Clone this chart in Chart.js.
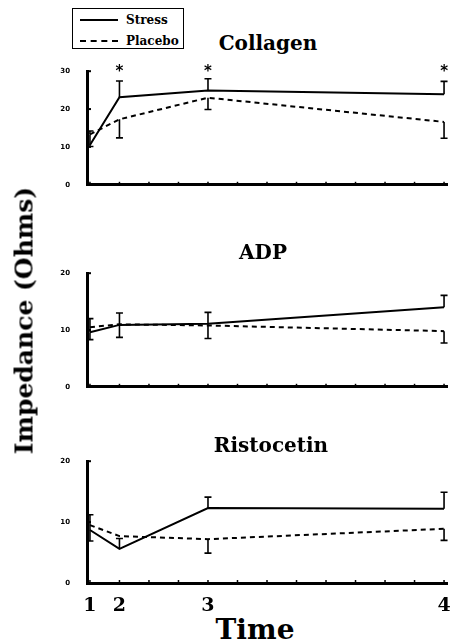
<!DOCTYPE html>
<html>
<head>
<meta charset="utf-8">
<script src="https://cdn.jsdelivr.net/npm/chart.js@4.4.1/dist/chart.umd.min.js"></script>
<style>
  html,body{margin:0;padding:0;background:#fff;}
  #wrap{position:relative;width:455px;height:643px;overflow:hidden;background:#fff;}
  canvas{position:absolute;left:0;}
  .t{position:absolute;font-family:"DejaVu Serif",serif;font-weight:bold;color:#000;white-space:nowrap;}
  #legend{position:absolute;left:72px;top:8px;width:112px;height:41px;border:1.5px solid #000;box-sizing:border-box;}
  .lg-line{position:absolute;left:7px;width:38px;height:0;}
  .lg-txt{position:absolute;left:53px;font-family:"DejaVu Serif",serif;font-weight:bold;font-size:12px;line-height:12px;}
</style>
</head>
<body>
<div id="wrap">
  <canvas id="c1" width="455" height="140" style="top:58px"></canvas>
  <canvas id="c2" width="455" height="140" style="top:260px"></canvas>
  <canvas id="c3" width="455" height="165" style="top:448px"></canvas>

  <div id="legend">
    <div class="lg-line" style="top:10px;border-top:2px solid #000;"></div>
    <div class="lg-txt" style="top:5px;">Stress</div>
    <div class="lg-line" style="top:31px;border-top:2px dashed #000;"></div>
    <div class="lg-txt" style="top:26px;">Placebo</div>
  </div>

  <div class="t" style="left:168px;width:200px;text-align:center;top:33px;font-size:20px;line-height:20px;">Collagen</div>
  <div class="t" style="left:163px;width:200px;text-align:center;top:242px;font-size:20px;line-height:20px;">ADP</div>
  <div class="t" style="left:171px;width:200px;text-align:center;top:435px;font-size:20px;line-height:20px;">Ristocetin</div>
  <div class="t" style="left:155px;width:200px;text-align:center;top:616px;font-size:28px;line-height:28px;">Time</div>
  <div class="t" style="left:-126px;top:308px;width:300px;text-align:center;font-size:25px;line-height:25px;transform:rotate(-90deg);">Impedance (Ohms)</div>
</div>

<script>
// ---- data ----
const timeLabels = ['1', '2', '3', '4'];
const timeValues = [0, 1, 4, 12];

const collagenStress     = [10.5, 23.1, 24.9, 23.9];
const collagenStressHi   = [null, 27.4, 28.0, 27.3];
const collagenStressLo   = [null, null, null, null];
const collagenPlacebo    = [13.3, 17.3, 23.0, 16.6];
const collagenPlaceboHi  = [14.2, null, null, null];
const collagenPlaceboLo  = [10.1, 12.4, 19.9, 12.3];
const collagenSignificant = [false, true, true, true];

const adpStress     = [9.6, 10.9, 11.1, 14.0];
const adpStressHi   = [12.0, 13.0, 13.1, 16.1];
const adpStressLo   = [8.3, 8.7, 8.5, null];
const adpPlacebo    = [10.5, 11.0, 10.8, 9.8];
const adpPlaceboHi  = [null, null, null, null];
const adpPlaceboLo  = [null, null, null, 7.7];

const ristoStress     = [8.7, 5.6, 12.3, 12.2];
const ristoStressHi   = [11.2, 7.3, 14.1, 14.9];
const ristoStressLo   = [6.9, null, null, null];
const ristoPlacebo    = [9.5, 7.7, 7.2, 8.9];
const ristoPlaceboHi  = [null, null, null, null];
const ristoPlaceboLo  = [null, null, 4.9, 7.0];

const yTickValues = { collagen: [0, 10, 20, 30], adp: [0, 10, 20], risto: [0, 10, 20] };

// ---- plugins ----
const errorBars = {
  id: 'errorBars',
  afterDatasetsDraw(chart) {
    const ctx = chart.ctx, xs = chart.scales.x, ys = chart.scales.y;
    ctx.save();
    ctx.strokeStyle = '#000';
    ctx.lineWidth = 1.6;
    chart.data.datasets.forEach(ds => {
      ds.data.forEach((p, i) => {
        const x = xs.getPixelForValue(p.x);
        const y0 = ys.getPixelForValue(p.y);
        [ds.errHi ? ds.errHi[i] : null, ds.errLo ? ds.errLo[i] : null].forEach(v => {
          if (v === null || v === undefined) return;
          const y1 = ys.getPixelForValue(v);
          ctx.beginPath();
          ctx.moveTo(x, y0); ctx.lineTo(x, y1);
          ctx.moveTo(x - 3.5, y1); ctx.lineTo(x + 3.5, y1);
          ctx.stroke();
        });
      });
    });
    ctx.restore();
  }
};

const innerTicks = {
  id: 'innerTicks',
  afterDraw(chart) {
    const ctx = chart.ctx, xs = chart.scales.x, ys = chart.scales.y, a = chart.chartArea;
    ctx.save();
    ctx.strokeStyle = '#000';
    ctx.lineWidth = 1.5;
    xs.ticks.forEach(t => {
      const x = xs.getPixelForValue(t.value);
      ctx.beginPath(); ctx.moveTo(x, a.bottom); ctx.lineTo(x, a.bottom - 3); ctx.stroke();
    });
    ctx.lineWidth = 2;
    ys.ticks.forEach(t => {
      if (t.value === 0) return;
      const y = ys.getPixelForValue(t.value);
      ctx.beginPath(); ctx.moveTo(a.left, y); ctx.lineTo(a.left + 4, y); ctx.stroke();
    });
    ctx.restore();
  }
};

const stars = {
  id: 'stars',
  afterDraw(chart) {
    const flags = chart.options.plugins.stars && chart.options.plugins.stars.flags;
    if (!flags) return;
    const ctx = chart.ctx, xs = chart.scales.x, a = chart.chartArea;
    ctx.save();
    ctx.fillStyle = '#000';
    ctx.font = 'bold 15px "DejaVu Sans"';
    ctx.textAlign = 'center';
    ctx.textBaseline = 'middle';
    flags.forEach((f, i) => {
      if (!f) return;
      ctx.fillText('*', xs.getPixelForValue(timeValues[i]), a.top + 1);
    });
    ctx.restore();
  }
};

function pts(vals) { return vals.map((v, i) => ({ x: timeValues[i], y: v })); }

function makePanel(id, stress, sHi, sLo, placebo, pHi, pLo, yMax, yTicks, opts) {
  opts = opts || {};
  const bottom = !!opts.bottom;
  new Chart(document.getElementById(id), {
    type: 'line',
    data: {
      datasets: [
        { label: 'Stress', data: pts(stress), errHi: sHi, errLo: sLo,
          borderColor: '#000', borderWidth: 2, pointRadius: 0, tension: 0, fill: false },
        { label: 'Placebo', data: pts(placebo), errHi: pHi, errLo: pLo,
          borderColor: '#000', borderWidth: 2, borderDash: [5, 4], pointRadius: 0, tension: 0, fill: false }
      ]
    },
    options: {
      responsive: false,
      animation: false,
      devicePixelRatio: 1,
      layout: { padding: { top: 12, right: 8, left: 0, bottom: 0 } },
      plugins: {
        legend: { display: false },
        tooltip: { enabled: false },
        title: { display: false },
        stars: { flags: opts.stars || null }
      },
      scales: {
        x: {
          type: 'linear',
          min: -0.1, max: 12.1,
          grid: { display: false },
          border: { display: true, color: '#000', width: 3 },
          afterFit: s => { s.height = bottom ? 30 : 6; },
          ticks: {
            display: bottom,
            stepSize: 1,
            includeBounds: false,
            autoSkip: false,
            maxRotation: 0,
            padding: 4,
            color: '#000',
            font: { family: '"DejaVu Serif"', weight: 'bold', size: 19 },
            callback: v => { const i = timeValues.indexOf(v); return i >= 0 ? timeLabels[i] : ''; }
          }
        },
        y: {
          min: 0, max: yMax,
          grid: { display: false },
          border: { display: true, color: '#000', width: 3 },
          afterFit: s => { s.width = 87; },
          afterBuildTicks: s => { s.ticks = yTicks.map(v => ({ value: v })); },
          ticks: {
            padding: 9,
            color: '#000',
            font: { family: '"DejaVu Sans"', weight: 'bold', size: 7 }
          }
        }
      }
    },
    plugins: [errorBars, innerTicks, stars]
  });
}

makePanel('c1', collagenStress, collagenStressHi, collagenStressLo,
  collagenPlacebo, collagenPlaceboHi, collagenPlaceboLo, 30, yTickValues.collagen,
  { stars: collagenSignificant });
makePanel('c2', adpStress, adpStressHi, adpStressLo,
  adpPlacebo, adpPlaceboHi, adpPlaceboLo, 20, yTickValues.adp);
makePanel('c3', ristoStress, ristoStressHi, ristoStressLo,
  ristoPlacebo, ristoPlaceboHi, ristoPlaceboLo, 20, yTickValues.risto, { bottom: true });
</script>
</body>
</html>
